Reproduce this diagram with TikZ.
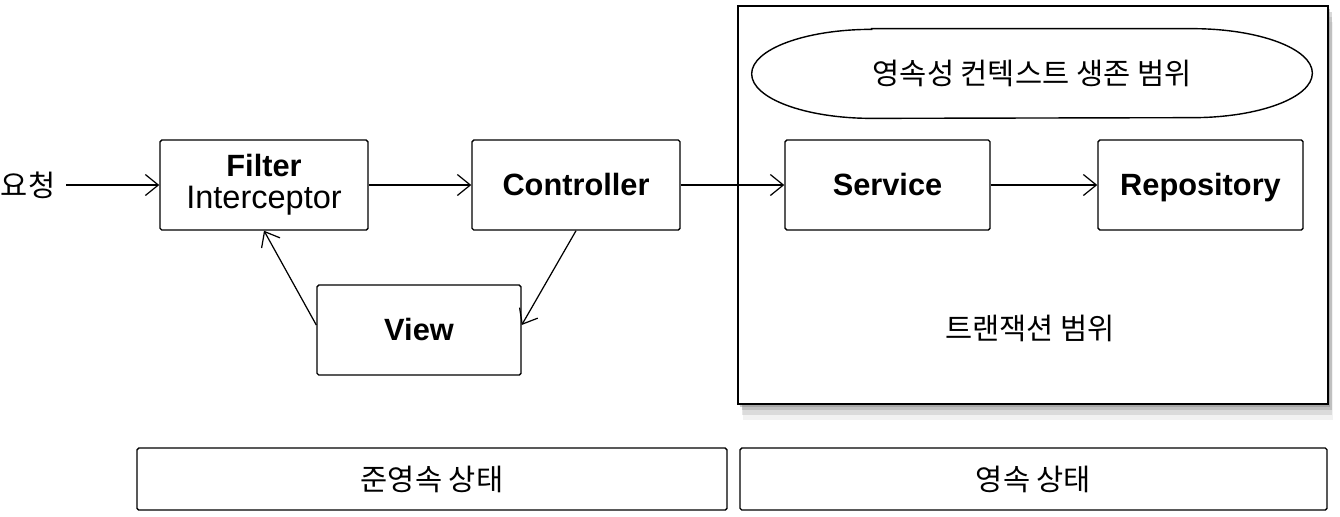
\documentclass[tikz,border=0pt]{standalone}
\usepackage{fontspec}
\setmainfont{Liberation Sans}
\newfontfamily\kr{Noto Sans CJK KR}
\usetikzlibrary{positioning,arrows.meta,shapes.geometric,shadows}

\tikzset{
  stagebox/.style={draw, line width=0.8pt, rounded corners=1pt, minimum width=4.16cm,
    minimum height=1.8cm, align=center, font=\fontsize{17.5}{19}\selectfont\bfseries},
  onebox/.style={stagebox, text height=16pt, text depth=3.5pt},
  statebox/.style={draw, line width=0.8pt, rounded corners=1pt, minimum width=11.8cm,
    minimum height=1.24cm, font=\kr\fontsize{16.8}{19}\selectfont},
  krtext/.style={font=\kr\fontsize{16.8}{19}\selectfont},
  flow/.style={line width=0.7pt, -{Straight Barb[length=2.6mm,width=4.2mm,line width=0.7pt]}},
}

\begin{document}
\begin{tikzpicture}
    \useasboundingbox (0,0) rectangle (26.8,-10.32);

    % transaction scope
    \node[draw, line width=1.2pt, fill=white, minimum width=11.8cm, minimum height=7.96cm,
          drop shadow={shadow xshift=1pt, shadow yshift=-1.5pt, opacity=0.4},
          drop shadow={shadow xshift=2pt, shadow yshift=-3.5pt, opacity=0.3},
          drop shadow={shadow xshift=2.5pt, shadow yshift=-6pt, opacity=0.2},
          drop shadow={shadow xshift=3pt, shadow yshift=-9pt, opacity=0.1}]
          (tx) at (20.66,-4.1) {};
    \node[krtext, minimum width=11.2cm, minimum height=1.78cm] (pc) at (20.64,-1.47)
          {영속성 컨텍스트 생존 범위};
    \draw[line width=0.8pt] ([xshift=2.4cm]pc.north west) -- ([xshift=-2.4cm]pc.north east)
          arc[start angle=90, end angle=-90, x radius=2.4cm, y radius=0.89cm]
          -- ([xshift=2.4cm]pc.south west)
          arc[start angle=270, end angle=90, x radius=2.4cm, y radius=0.89cm] -- cycle;
    \node[krtext] (txlabel) at (20.6,-6.56) {트랜잭션 범위};

    % request flow
    \node[krtext, inner sep=6pt] (req) at (0.56,-3.7) {요청};
    \node[stagebox] (filter) at (5.28,-3.7) {Filter\\[-1pt]{\mdseries\fontsize{18.5}{19}\selectfont Interceptor}};
    \node[onebox] (ctrl) at (11.52,-3.7) {Controller};
    \node[onebox, minimum width=4.1cm] (service) at (17.75,-3.7) {Service};
    \node[onebox, minimum width=4.1cm] (repo) at (24.01,-3.7) {Repository};
    \node[onebox, minimum width=4.08cm] (view) at (8.38,-6.6) {View};

    \draw[flow] (req) -- (filter);
    \draw[flow] (filter) -- (ctrl);
    \draw[flow] (ctrl) -- (service);
    \draw[flow] (service) -- (repo);
    \draw[flow] (ctrl.south) -- ([yshift=0.1cm]view.east);
    \draw[flow] ([yshift=0.1cm]view.west) -- (filter.south);

    % entity states
    \node[statebox] (detached) at (8.64,-9.58) {준영속 상태};
    \node[statebox, minimum width=11.74cm] (managed) at (20.67,-9.58) {영속 상태};
\end{tikzpicture}
\end{document}
